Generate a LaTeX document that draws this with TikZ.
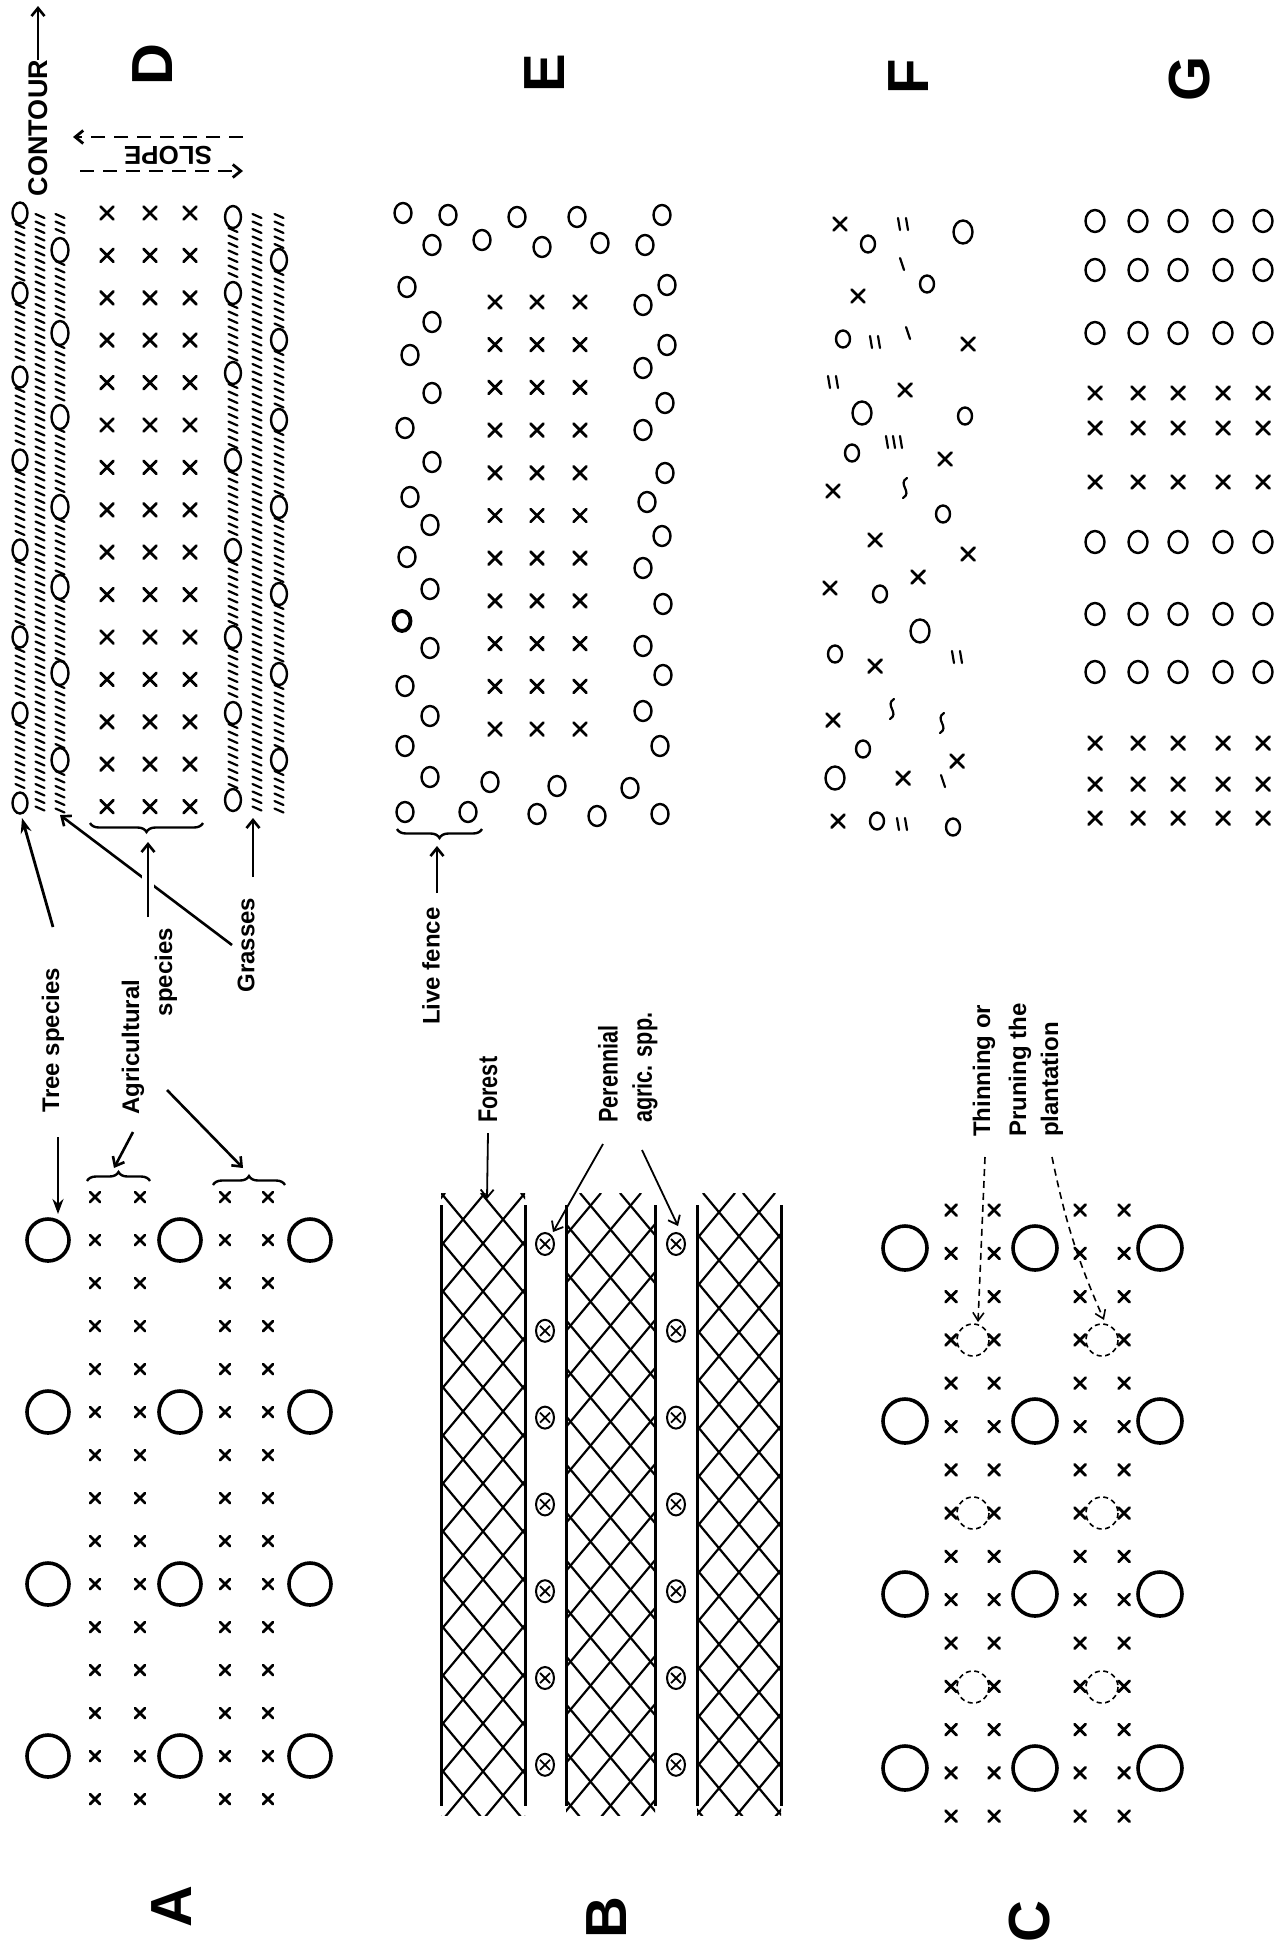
\documentclass[tikz,border=0pt]{standalone}
\usepackage{fontspec}
\setmainfont{Liberation Sans}
\newfontfamily\condfont[FakeStretch=0.8]{Liberation Sans}
\usetikzlibrary{arrows.meta,decorations.pathreplacing}
\newcommand\Xm[3]{\draw[xm] ({#1-#3},{#2-#3})--({#1+#3},{#2+#3}) ({#1-#3},{#2+#3})--({#1+#3},{#2-#3});}
\newcommand\hseg[3]{\pgfmathsetmacro\hsb{#2+7.5}\foreach \hy in {#2,\hsb,...,#3}{\draw[hat] ({#1-4.5},{\hy-2})--({#1+4.5},{\hy+2});}}
\begin{document}
\begin{tikzpicture}[x=1pt,y=-1pt]
\tikzset{
 lab/.style={rotate=90, inner sep=0pt, font=\fontsize{24}{28}\selectfont\bfseries},
 cond/.style={rotate=90, inner sep=0pt, font=\condfont\fontsize{27}{30}\selectfont\bfseries},
 big/.style={rotate=90, inner sep=0pt, font=\fontsize{58}{60}\selectfont\bfseries},
 xm/.style={line width=2.8pt, line cap=round},
 tree/.style={line width=3.6pt},
 smo/.style={line width=2.4pt},
 hat/.style={line width=2.2pt, line cap=round},
 arr/.style={line width=2.6pt, -{Straight Barb[length=8pt,width=13pt]}},
 sarr/.style={line width=2.8pt, -{Stealth[length=15pt,width=11pt]}},
 darr/.style={line width=2.8pt, dash pattern=on 14pt off 9pt, -{Straight Barb[length=8pt,width=13pt]}},
 tdarr/.style={line width=1.6pt, dash pattern=on 7pt off 5pt, -{Straight Barb[length=8pt,width=11pt]}},
 dcirc/.style={line width=1.6pt, dash pattern=on 5pt off 3.5pt},
 brc/.style={decorate, decoration={brace, amplitude=9pt}, line width=2.4pt},
 stripline/.style={line width=3pt},
 hatchline/.style={line width=2.2pt},
 halo/.style={preaction={draw, white, line width=12pt, -}},
}
\useasboundingbox (0,0) rectangle (1274,1944);

% ---------------- Panel D ----------------
\node[big] (lD) at (153,65) {D};
\node[lab, font=\fontsize{27}{30}\selectfont\bfseries] (contour) at (38,128) {CONTOUR};
\coordinate (cT) at (38,6);
\draw[arr] (contour.east) -- (cT);
\node[rotate=180, inner sep=0pt, font=\fontsize{26}{28}\selectfont\bfseries] (slope) at (168,155) {SLOPE};
\coordinate (s1a) at (243,137); \coordinate (s1b) at (73,137);
\coordinate (s2a) at (80,171); \coordinate (s2b) at (243,171);
\draw[darr] (s1a) -- (s1b);
\draw[darr] (s2a) -- (s2b);
% X rows
\foreach \c in {107,150,190} \foreach \k in {0,...,14} {\pgfmathsetmacro\yy{213+42.4*\k}\Xm{\c}{\yy}{6.5}}
% tree circles
\foreach \y in {213,293,377,460,550,637,713,803} \draw[smo] (20,\y) ellipse [x radius=7.5, y radius=10.5];
\foreach \y in {250,333,417,507,587,673,760} \draw[smo] (60,\y) ellipse [x radius=8.5, y radius=12];
\foreach \y in {217,293,373,460,550,637,713,800} \draw[smo] (233,\y) ellipse [x radius=8, y radius=11];
\foreach \y in {260,340,420,507,594,674,760} \draw[smo] (279,\y) ellipse [x radius=8, y radius=11];
% grass hatches
\hseg{20}{226}{280}\hseg{20}{306}{364}\hseg{20}{390}{447}\hseg{20}{473}{537}\hseg{20}{563}{624}\hseg{20}{650}{700}\hseg{20}{726}{790}
\hseg{40}{216}{812}
\hseg{60}{216}{237}\hseg{60}{263}{320}\hseg{60}{346}{404}\hseg{60}{430}{494}\hseg{60}{520}{574}\hseg{60}{600}{660}\hseg{60}{686}{747}\hseg{60}{773}{812}
\hseg{233}{230}{280}\hseg{233}{306}{360}\hseg{233}{386}{447}\hseg{233}{473}{537}\hseg{233}{563}{624}\hseg{233}{650}{700}\hseg{233}{726}{787}
\hseg{257}{216}{812}
\hseg{279}{216}{247}\hseg{279}{273}{327}\hseg{279}{353}{407}\hseg{279}{433}{494}\hseg{279}{520}{581}\hseg{279}{607}{661}\hseg{279}{687}{747}\hseg{279}{773}{812}
% brace under D crops
\coordinate (bDr) at (203,823); \coordinate (bDl) at (90,823);
\draw[brc] (bDr) -- (bDl);

% labels between D and A
\node[lab] (treesp) at (53,1040) {Tree species};
\node[lab] (agr1) at (133,1047) {Agricultural};
\node[lab] (agr2) at (166,972) {species};
\node[lab] (grass) at (246,945) {Grasses};
\coordinate (ts0) at (53,927); \coordinate (ts1) at (22,818);
\draw[sarr] (ts0) -- (ts1);
\coordinate (ts2) at (58,1137); \coordinate (ts3) at (58,1214);
\draw[sarr] (ts2) -- (ts3);
\coordinate (gr0) at (232,945); \coordinate (gr1) at (60,815);
\draw[arr] (gr0) -- (gr1);
\coordinate (sp0) at (148,917); \coordinate (sp1) at (148,842);
\draw[arr, halo] (sp0) -- (sp1);
\coordinate (gr2) at (253,877); \coordinate (gr3) at (253,818);
\draw[arr] (gr2) -- (gr3);
\coordinate (ag0) at (133,1132); \coordinate (ag1) at (114,1168);
\draw[arr] (ag0) -- (ag1);
\coordinate (ag2) at (167,1090); \coordinate (ag3) at (243,1168);
\draw[arr] (ag2) -- (ag3);

% ---------------- Panel A ----------------
\coordinate (bA1l) at (87,1181); \coordinate (bA1r) at (150,1181);
\draw[brc] (bA1l) -- (bA1r);
\coordinate (bA2l) at (213,1185); \coordinate (bA2r) at (285,1185);
\draw[brc] (bA2l) -- (bA2r);
\foreach \c in {48,180,310} \foreach \r in {1240,1412,1584,1756} \draw[tree] (\c,\r) circle [radius=21];
\foreach \c in {95,140,225,268} \foreach \k in {0,...,14} {\pgfmathsetmacro\yy{1197+43*\k}\Xm{\c}{\yy}{5}}
\node[big] (lA) at (172,1907) {A};

% ---------------- Panel B ----------------
\foreach \L/\R/\o in {441/525/0, 566/655/14, 697/781/6} {
  \begin{scope}
    \clip (\L,1193) rectangle (\R,1815);
    \foreach \k in {-15,...,3} {\draw[hatchline] ({\L+\o+40*\k},1193) -- ++(600,720);}
    \foreach \k in {-15,...,3} {\draw[hatchline] ({\R-\o-40*\k},1193) -- ++(-600,720);}
  \end{scope}
  \draw[stripline] (\L,1205) -- (\L,1806);
  \draw[stripline] (\R,1205) -- (\R,1806);
}
\foreach \c in {545,676} \foreach \k in {0,...,6} {
  \pgfmathsetmacro\yy{1244+86.8*\k}
  \draw[line width=2pt] (\c,\yy) ellipse [x radius=9, y radius=11];
  \draw[line width=1.8pt] ({\c-5},{\yy-5}) -- ({\c+5},{\yy+5}) ({\c-5},{\yy+5}) -- ({\c+5},{\yy-5});
}
\node[cond, anchor=west] (forest) at (488,1123) {Forest};
\coordinate (fo1) at (487,1199);
\draw[arr, line width=1.8pt] ([yshift=-10pt]forest.west) -- (fo1);
\node[cond, anchor=west] (per1) at (608,1123) {Perennial};
\node[cond, anchor=west] (per2) at (645,1123) {agric. spp.};
\coordinate (pe0) at (603,1144); \coordinate (pe1) at (553,1232);
\coordinate (pe2) at (642,1150); \coordinate (pe3) at (678,1226);
\draw[arr, line width=1.8pt] (pe0) -- (pe1);
\draw[arr, line width=1.8pt] (pe2) -- (pe3);
\node[big] (lB) at (607,1918) {B};

% ---------------- Panel C ----------------
\foreach \c in {905,1035,1160} \foreach \r in {1248,1421,1594,1768} \draw[tree] (\c,\r) circle [radius=22];
\foreach \c in {951,994,1080,1124} \foreach \k in {0,...,14} {\pgfmathsetmacro\yy{1210+43.3*\k}\Xm{\c}{\yy}{5.5}}
\foreach \c in {973,1102} \foreach \r in {1340,1513,1687} \draw[dcirc] (\c,\r) circle [radius=16];
\node[lab, anchor=west] (thin1) at (984,1137) {Thinning or};
\node[lab, anchor=west] (thin2) at (1020,1137) {Pruning the};
\node[lab, anchor=west] (thin3) at (1052,1137) {plantation};
\coordinate (th0) at (985,1157); \coordinate (th1) at (978,1322);
\coordinate (th2) at (1052,1157); \coordinate (th3) at (1104,1320);
\draw[tdarr] (th0) -- (th1);
\draw[tdarr] (th2) to[bend right=6] (th3);
\node[big] (lC) at (1030,1922) {C};

% ---------------- Panel E ----------------
\node[big] (lE) at (545,73) {E};
\foreach \c in {495,537,580} \foreach \k in {0,...,10} {\pgfmathsetmacro\yy{302+42.7*\k}\Xm{\c}{\yy}{6.5}}
\foreach \p in {(403,213),(448,215),(517,217),(577,217),(662,215),(432,245),(482,240),(542,247),(600,243),(645,245),
  (407,287),(432,322),(410,355),(432,393),(405,428),(432,462),(410,497),(430,525),(407,557),(430,589),(430,648),(405,686),(430,716),(405,746),(430,777),(405,812),
  (468,812),(490,782),(537,814),(557,786),(597,816),(630,788),(660,814),
  (667,285),(643,305),(667,345),(643,368),(665,403),(643,430),(665,473),(647,502),(662,536),(643,568),(663,604),(643,646),(663,675),(643,711),(660,746)}
  \draw[smo] \p ellipse [x radius=8.5, y radius=10];
\draw[line width=3.8pt] (402,621) ellipse [x radius=8.5, y radius=10];
\coordinate (bEr) at (482,829); \coordinate (bEl) at (397,829);
\draw[brc] (bEr) -- (bEl);
\node[lab] (live) at (431,966) {Live fence};
\coordinate (lf0) at (437,893); \coordinate (lf1) at (437,846);
\draw[arr] (lf0) -- (lf1);

% ---------------- Panel F ----------------
\node[big] (lF) at (909,77) {F};
\foreach \x/\y in {840/224,858/296,968/344,905/390,945/459,833/491,875/540,968/554,830/588,918/577,875/666,833/720,957/761,903/778,838/821}
  \Xm{\x}{\y}{6.5};
\foreach \x/\y in {868/244,927/284,843/339,965/416,852/453,943/514,880/594,835/654,863/749,877/821,953/827}
  \draw[smo] (\x,\y) ellipse [x radius=7, y radius=8.5];
\foreach \x/\y in {963/232,862/413,920/631,835/778}
  \draw[smo] (\x,\y) ellipse [x radius=9.5, y radius=11.5];
\foreach \x/\y in {903/224,875/342,833/382,957/657,902/824}
  {\draw[hat] ({\x-5},{\y-6}) -- ({\x-3},{\y+6}); \draw[hat] ({\x+3},{\y-6}) -- ({\x+5},{\y+6});}
\foreach \x/\y in {902/264,908/333,943/781}
  {\draw[hat] ({\x-2},{\y-6}) -- ({\x+2},{\y+6});}
\draw[hat] (886,436) -- (888,448) (893,436) -- (895,448) (900,436) -- (902,448);
\foreach \x/\y in {905/488,892/709,942/723}
  {\draw[hat] ({\x+2},{\y-10}) .. controls ({\x-8},{\y-4}) and ({\x+8},{\y+4}) .. ({\x-2},{\y+10});}

% ---------------- Panel G ----------------
\node[big] (lG) at (1190,79) {G};
\foreach \c in {1095,1138,1178,1223,1263} {
  \foreach \r in {221,270,333,542,614,672} \draw[smo] (\c,\r) ellipse [x radius=9.5, y radius=11];
  \foreach \r in {393,428,482,743,784,818} \Xm{\c}{\r}{6.5};
}
\end{tikzpicture}
\end{document}
